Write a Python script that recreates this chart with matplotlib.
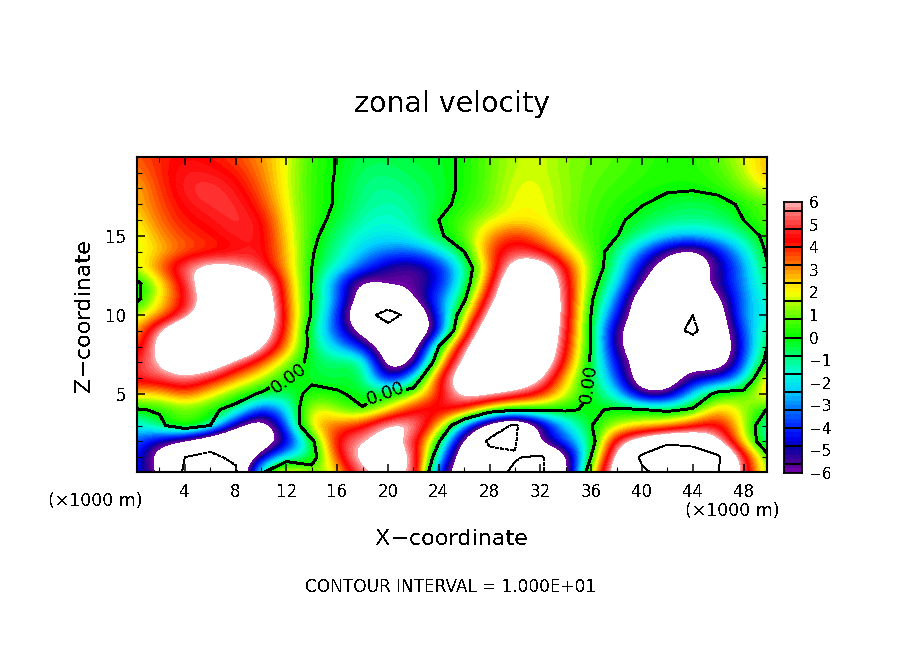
import numpy as np
import matplotlib
matplotlib.use('Agg')
import matplotlib.pyplot as plt
from matplotlib.colors import LinearSegmentedColormap, BoundaryNorm

plt.rcParams['text.antialiased'] = False

# grid of the field, x in km (x1000 m), z in km
x_km = np.arange(0, 51, 2)
z_km = np.arange(0, 21, 1)

# one row per height, z=20 first
u_z20 = [3.5, 4.0, 4.4, 4.2, 3.7, 3.0, 2.0, 0.5, -0.05, -0.5, -0.5, -0.3, -0.3, 0.15, 1.0, 1.6, 1.8, 1.2, 1.0, 0.8, 0.5, 0.3, 0.3, 0.8, 1.8, 2.8]
u_z19 = [3.0, 4.0, 4.7, 4.6, 4.2, 3.2, 1.9, 0.4, -0.05, -0.7, -0.8, -0.5, -0.3, 0.15, 0.9, 1.7, 1.8, 1.2, 0.9, 0.7, 0.4, 0.3, 0.3, 0.6, 1.5, 3.0]
u_z18 = [2.5, 3.8, 4.8, 5.1, 4.6, 3.5, 1.9, 0.4, -0.1, -0.9, -1.1, -0.7, -0.4, 0.2, 1.0, 1.9, 1.9, 1.3, 0.8, 0.5, 0.3, 0.15, 0.1, 0.3, 1.1, 2.0]
u_z17 = [2.5, 3.6, 4.5, 4.9, 5.0, 3.9, 2.0, 0.4, -0.1, -1.0, -1.3, -1.0, -0.3, 0.3, 1.0, 2.0, 2.0, 1.3, 0.7, 0.3, 0.05, -0.4, -0.6, -0.4, 0.2, 0.9]
u_z16 = [2.0, 3.4, 4.2, 4.5, 5.0, 4.6, 2.2, 0.4, -0.3, -1.3, -1.6, -1.2, 0.0, 0.8, 1.8, 2.2, 2.1, 1.3, 0.6, 0.2, -0.4, -0.8, -0.9, -0.8, 0.0, 0.9]
u_z15 = [1.5, 3.0, 3.8, 4.2, 4.7, 4.8, 2.4, 0.3, -0.8, -1.8, -2.0, -1.6, -0.2, 0.8, 3.0, 4.2, 3.0, 1.6, 0.5, 0.05, -1.0, -2.2, -2.4, -2.0, -1.0, 0.6]
u_z14 = [1.5, 2.5, 3.4, 3.8, 4.2, 4.8, 2.7, 0.1, -1.0, -2.5, -3.2, -3.4, -2.2, 0.0, 3.8, 5.2, 4.5, 2.5, 0.9, -0.8, -3.2, -5.8, -7.0, -4.5, -2.2, 0.4]
u_z13 = [1.6, 3.5, 5.7, 7.0, 6.5, 5.0, 2.8, 0.0, -1.6, -3.5, -5.4, -5.8, -4.5, -1.5, 3.0, 7.5, 8.0, 4.3, 1.1, -1.2, -5.0, -7.5, -8.0, -5.3, -3.0, 0.1]
u_z12 = [-0.7, 1.8, 4.8, 8.0, 8.0, 8.0, 3.2, -0.1, -3.5, -7.0, -5.5, -5.9, -4.5, -1.2, 4.0, 9.0, 9.0, 5.0, 0.6, -1.8, -6.2, -8.0, -7.5, -5.0, -3.0, -0.4]
u_z11 = [-0.7, 2.2, 4.3, 7.5, 9.0, 8.5, 3.4, -0.1, -3.0, -7.5, -8.0, -6.0, -3.4, -0.3, 5.5, 9.0, 9.5, 5.2, 0.2, -3.0, -8.0, -9.0, -9.0, -6.5, -3.0, -1.2]
u_z10 = [1.4, 2.7, 5.0, 8.0, 10.0, 9.0, 3.8, -0.2, -3.8, -9.0, -11.0, -9.0, -3.8, 1.5, 7.0, 9.5, 10.0, 5.0, -0.05, -4.2, -8.0, -9.0, -10.0, -7.5, -2.5, -1.6]
u_z9 = [2.2, 6.3, 9.0, 10.0, 10.0, 8.0, 3.8, -0.9, -3.8, -7.0, -9.0, -9.0, -5.0, 3.5, 8.5, 9.0, 9.5, 4.8, -0.2, -5.8, -8.0, -9.0, -10.5, -8.0, -3.5, -0.3]
u_z8 = [3.0, 7.0, 9.0, 9.5, 9.5, 6.5, 3.2, -0.7, -2.5, -4.2, -8.0, -8.0, 0.0, 5.8, 9.0, 9.0, 9.0, 4.5, -0.1, -5.7, -8.0, -8.0, -8.5, -8.5, -4.0, 0.3]
u_z7 = [4.5, 6.2, 8.0, 8.0, 5.5, 3.7, 1.2, -0.5, -0.7, -0.2, -8.0, -6.5, 2.0, 7.0, 9.0, 9.5, 8.5, 3.8, -0.3, -4.5, -7.5, -7.0, -7.0, -8.0, -3.5, 1.0]
u_z6 = [4.8, 5.3, 5.9, 4.8, 3.0, 1.6, 0.05, -0.3, -0.6, -0.1, -5.5, -2.0, 4.5, 8.0, 9.0, 8.5, 6.5, 2.4, -0.3, -3.5, -8.0, -8.0, -5.0, -4.5, -2.5, 3.5]
u_z5 = [2.5, 2.2, 3.8, 2.1, 0.8, -0.2, -0.7, 0.4, 0.2, -0.4, 0.1, 1.2, 4.0, 7.0, 6.5, 5.5, 4.3, 1.7, -0.1, -1.8, -6.0, -6.0, -2.0, 0.7, 0.8, 3.0]
u_z4 = [-0.2, 0.2, 0.8, 0.3, -0.5, -4.5, -2.5, 2.5, 1.2, 0.1, 1.9, 4.5, 5.0, 4.3, 1.5, 0.3, 0.3, 0.2, -0.2, 0.2, 0.05, -0.3, 0.2, 3.0, 1.5, -0.2]
u_z3 = [-2.0, -0.5, 1.5, 0.0, -5.5, -8.0, -3.5, 3.0, 3.5, 4.2, 7.0, 6.5, 2.8, -3.0, -8.0, -10.5, -6.0, -2.2, -0.05, 1.5, 2.2, 2.5, 4.0, 5.0, 1.7, -2.0]
u_z2 = [-3.3, -5.3, -6.5, -9.0, -10.0, -8.0, -5.5, -0.5, 5.0, 6.0, 7.0, 5.0, 0.2, -7.0, -10.5, -10.3, -5.0, -3.5, -1.0, 5.5, 7.5, 9.5, 9.0, 6.5, 2.0, -2.0]
u_z1 = [-3.8, -7.0, -10.0, -10.5, -9.5, -5.0, -1.5, -1.0, 4.0, 7.0, 8.0, 6.3, -2.0, -8.5, -9.0, -9.8, -10.5, -7.0, 0.1, 7.0, 10.5, 12.0, 12.0, 10.5, 5.0, 0.3]
u_z0 = [-4.0, -6.0, -10.5, -11.0, -10.5, -0.3, 3.8, 1.0, 2.0, 6.0, 5.8, 7.0, -5.0, -8.0, -9.0, -10.5, -10.5, -7.0, 2.0, 8.0, 9.5, 11.0, 11.0, 10.0, 5.5, 0.5]

# colour bar anchors
cmap_vals = [-6, -5.6, -5, -4.6, -4, -3.2, -2.4, -1.6, -0.8, 0, 0.8, 1.6, 2, 2.4, 3.2, 4, 4.4, 4.8, 5.6, 6]
cmap_rgb = [(110, 0, 165), (70, 0, 150), (10, 0, 165), (0, 0, 235), (0, 40, 255), (0, 120, 255), (0, 210, 255),
            (0, 255, 215), (0, 255, 115), (0, 255, 0), (80, 255, 0), (180, 255, 0), (255, 255, 0), (255, 225, 0),
            (255, 130, 0), (255, 40, 0), (255, 0, 0), (255, 30, 30), (255, 110, 110), (255, 165, 165)]
key_ticks = [-6, -5, -4, -3, -2, -1, 0, 1, 2, 3, 4, 5, 6]
key_edges = [-5.6, -4.8, -4, -3.2, -2.4, -1.6, -0.8, 0, 0.8, 1.6, 2.4, 3.2, 4, 4.8, 5.6]

W, H = 904, 654

def px_axes(fig, x0, y0, x1, y1):
    # axes from pixel corners, y counted from the top
    return fig.add_axes([x0/W, 1-y1/H, (x1-x0)/W, (y1-y0)/H])

def make_cmap():
    pos = [(v+6)/12 for v in cmap_vals]
    cols = [(r/255, g/255, b/255) for r, g, b in cmap_rgb]
    cmap = LinearSegmentedColormap.from_list('zonal', list(zip(pos, cols)), N=60)
    cmap.set_over('white')
    cmap.set_under('white')
    return cmap

def main():
    u = np.array([u_z0, u_z1, u_z2, u_z3, u_z4, u_z5, u_z6, u_z7, u_z8, u_z9, u_z10, u_z11, u_z12,
                  u_z13, u_z14, u_z15, u_z16, u_z17, u_z18, u_z19, u_z20])
    levels = np.linspace(-6, 6, 61)
    cmap = make_cmap()
    norm = BoundaryNorm(levels, cmap.N)

    fig = plt.figure(figsize=(W/100, H/100), dpi=100)
    ax = px_axes(fig, 137, 157, 767, 472)
    ax.imshow(u, origin='lower', extent=[-1, 51, -0.5, 20.5], aspect='auto', cmap=cmap, norm=norm,
              interpolation='bicubic', interpolation_stage='data')
    cs = ax.contour(x_km, z_km, u, levels=[0], colors='k', linewidths=1.4, antialiased=False)
    ax.clabel(cs, fmt='%.2f', fontsize=13, manual=[(12.2, 6.0), (19.8, 4.9), (36.4, 5.7)], inline_spacing=1)
    ax.contour(x_km, z_km, u, levels=[-10], colors='k', linewidths=0.6, linestyles='dashed', antialiased=False)
    ax.contour(x_km, z_km, u, levels=[10], colors='k', linewidths=0.6, linestyles='solid', antialiased=False)
    ax.set_xlim(0.24, 49.84)
    ax.set_ylim(0.06, 19.99)
    ax.set_xticks(np.arange(4, 49, 4))
    ax.set_xticks(np.arange(2, 50, 2), minor=True)
    ax.set_yticks([5, 10, 15])
    ax.set_yticks(np.arange(1, 20), minor=True)
    ax.tick_params(which='major', direction='in', length=6, width=1.1, top=True, right=True, labelsize=12, pad=8)
    ax.tick_params(which='minor', direction='in', length=3.5, width=0.8, top=True, right=True)
    for s in ax.spines.values():
        s.set_linewidth(1.5)

    # key
    kax = px_axes(fig, 784, 202, 802, 473)
    vals = np.linspace(-5.9, 5.9, 60).reshape(-1, 1)
    kax.imshow(vals, origin='lower', extent=[0, 1, -6, 6], aspect='auto', cmap=cmap, norm=norm, interpolation='nearest')
    for e in key_edges:
        kax.axhline(e, color='k', lw=1.3, antialiased=False)
    kax.set_xticks([])
    kax.yaxis.tick_right()
    kax.set_yticks(key_ticks)
    kax.set_yticklabels([str(t).replace('-', '\u2212') for t in key_ticks])
    kax.tick_params(axis='y', length=0, labelsize=11, pad=5)
    for s in kax.spines.values():
        s.set_linewidth(1.3)

    fig.text(452/W, 1-104/H, 'zonal velocity', ha='center', va='center', fontsize=20.5)
    fig.text(452/W, 1-539/H, 'X\u2212coordinate', ha='center', va='center', fontsize=16)
    fig.text(84/W, 1-316/H, 'Z\u2212coordinate', ha='center', va='center', rotation=90, fontsize=16)
    fig.text(451/W, 1-587/H, 'CONTOUR INTERVAL = 1.000E+01', ha='center', va='center', fontsize=12.2)
    fig.text(95/W, 1-501/H, '(\u00d71000 m)', ha='center', va='center', fontsize=12.5)
    fig.text(732/W, 1-511/H, '(\u00d71000 m)', ha='center', va='center', fontsize=12.5)
    fig.savefig('out.png', dpi=100)

if __name__ == '__main__':
    main()
